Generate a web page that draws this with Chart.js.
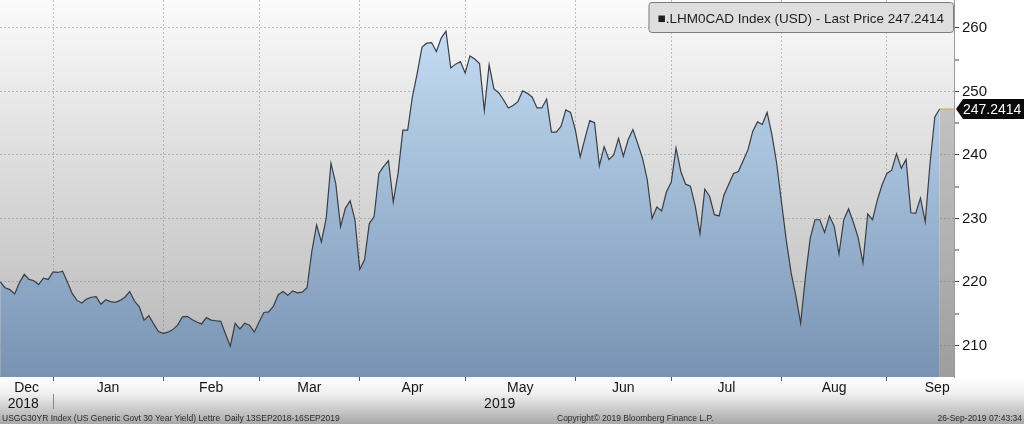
<!DOCTYPE html>
<html>
<head>
<meta charset="utf-8">
<script src="https://cdn.jsdelivr.net/npm/chart.js@4.4.1/dist/chart.umd.min.js"></script>
<style>
  html, body { margin: 0; padding: 0; background: #fff; }
  #wrap { width: 1024px; height: 424px; }
</style>
</head>
<body>
<div id="wrap"><canvas id="ourChart" width="1024" height="424"></canvas></div>
<script>
// one value per weekday, 17 Dec 2018 .. 17 Sep 2019
var seriesName = '.LHM0CAD Index (USD)';
var prices = [
    220.0, 219.1, 218.8, 218.1, 219.9, 221.2, 220.4, 220.2, 219.6, 220.6,
    220.4, 221.6, 221.5, 221.7, 220.0, 218.2, 217.1, 216.7, 217.3, 217.6,
    217.7, 216.5, 217.2, 216.9, 216.8, 217.1, 217.6, 218.5, 217.0, 216.1,
    214.0, 214.7, 213.4, 212.2, 211.9, 212.1, 212.5, 213.2, 214.5, 214.6,
    214.1, 213.7, 213.4, 214.4, 214.0, 213.9, 213.8, 211.8, 209.9, 213.5,
    212.6, 213.5, 213.2, 212.1, 213.7, 215.2, 215.3, 216.2, 218.0, 218.5,
    217.9, 218.6, 218.3, 218.4, 219.1, 224.8, 229.0, 226.3, 230.0, 238.7,
    235.5, 228.7, 231.6, 232.8, 229.8, 222.0, 223.5, 229.2, 230.3, 237.1,
    238.2, 239.1, 232.6, 237.1, 243.9, 243.9, 249.2, 252.9, 257.0, 257.6,
    257.7, 256.3, 258.4, 259.5, 253.7, 254.3, 254.7, 252.9, 255.6, 255.1,
    254.4, 247.0, 254.2, 250.4, 249.8, 248.7, 247.4, 247.8, 248.4, 250.1,
    249.7, 249.1, 247.4, 247.4, 248.8, 243.6, 243.6, 244.5, 247.1, 246.7,
    243.9, 239.7, 242.6, 245.4, 245.1, 238.3, 241.3, 239.3, 240.0, 242.6,
    239.8, 242.4, 244.0, 241.8, 239.5, 236.1, 230.0, 231.8, 231.2, 234.2,
    235.7, 241.1, 237.4, 235.4, 235.1, 232.0, 227.6, 234.6, 233.5, 230.6,
    230.4, 233.7, 235.4, 237.1, 237.4, 239.1, 240.8, 243.7, 245.2, 244.8,
    246.7, 243.2, 238.7, 232.6, 226.6, 221.5, 217.8, 213.5, 220.8, 226.9,
    229.8, 229.8, 227.8, 230.4, 228.8, 224.4, 229.8, 231.5, 229.4, 227.0,
    223.0, 230.7, 229.8, 232.9, 235.3, 237.1, 237.6, 240.2, 237.9, 239.3,
    230.9, 230.8, 233.2, 229.5, 238.7, 246.0, 247.2414
];

var monthLabels = ['Dec', 'Jan', 'Feb', 'Mar', 'Apr', 'May', 'Jun', 'Jul', 'Aug', 'Sep'];
// weekday index where each month starts (last entry = end of Sep)
var monthStarts = [0, 11, 34, 54, 75, 97, 120, 140, 163, 185, 206];
var yearLabels = ['2018', '2019'];
var yearPos = [4.8, 104.2];
var yTicks = [210, 220, 230, 240, 250, 260];

var footerLeft = 'USGG30YR Index (US Generic Govt 30 Year Yield) Lettre  Daily 13SEP2018-16SEP2019';
var footerMid = 'Copyright\u00A9 2019 Bloomberg Finance L.P.';
var footerRight = '26-Sep-2019 07:43:34';

var xMin = -0.06, xMax = 199;
var yMin = 205.04, yMax = 264.4;

var lastIdx = prices.length - 1;
var lastPrice = prices[lastIdx];
var fontName = '"Liberation Sans", Arial, sans-serif';

var backdrop = {
    id: 'backdrop',
    beforeDraw: function (chart) {
        var ctx = chart.ctx, a = chart.chartArea, w = chart.width, h = chart.height;
        ctx.save();
        ctx.fillStyle = '#ffffff';
        ctx.fillRect(0, 0, w, h);
        var g = ctx.createLinearGradient(0, a.top, 0, a.bottom);
        g.addColorStop(0, '#fbfbfb');
        g.addColorStop(0.35, '#e2e2e2');
        g.addColorStop(0.7, '#cbcbcb');
        g.addColorStop(1, '#b3b3b3');
        ctx.fillStyle = g;
        ctx.fillRect(a.left, a.top, a.right - a.left, a.bottom - a.top);
        var b = ctx.createLinearGradient(0, a.bottom, 0, h);
        b.addColorStop(0, '#ffffff');
        b.addColorStop(0.35, '#f0f0f0');
        b.addColorStop(1, '#a8a8a8');
        ctx.fillStyle = b;
        ctx.fillRect(0, a.bottom, w, h - a.bottom);
        ctx.restore();
    },
    afterDraw: function (chart) {
        var ctx = chart.ctx, a = chart.chartArea, w = chart.width, h = chart.height;
        var ys = chart.scales.y, xs = chart.scales.x;
        ctx.save();

        // legend box
        var txt = '\u25A0' + seriesName + ' - Last Price ' + lastPrice.toFixed(4);
        ctx.font = '13.5px ' + fontName;
        var tw = ctx.measureText(txt).width;
        var bx1 = a.right - 1, bx0 = bx1 - tw - 18;
        ctx.beginPath();
        ctx.roundRect(bx0 + 0.5, 2.5, bx1 - bx0, 30, 3);
        ctx.fillStyle = '#dedede';
        ctx.fill();
        ctx.strokeStyle = '#7c7c7c';
        ctx.lineWidth = 1;
        ctx.stroke();
        ctx.fillStyle = '#1e1e1e';
        ctx.textBaseline = 'alphabetic';
        ctx.fillText(txt, bx0 + 9, 23);

        // last price tag on the axis
        var py = ys.getPixelForValue(lastPrice);
        ctx.beginPath();
        ctx.moveTo(a.right + 2, py);
        ctx.lineTo(a.right + 9, py - 10);
        ctx.lineTo(w, py - 10);
        ctx.lineTo(w, py + 10);
        ctx.lineTo(a.right + 9, py + 10);
        ctx.closePath();
        ctx.fillStyle = '#0a0a0a';
        ctx.fill();
        ctx.fillStyle = '#ffffff';
        ctx.font = '14px ' + fontName;
        ctx.textBaseline = 'middle';
        ctx.fillText(lastPrice.toFixed(4), a.right + 9, py + 1);

        // year separator
        var sx = Math.round(xs.getPixelForValue(monthStarts[1])) + 0.5;
        ctx.strokeStyle = '#8a8a8a';
        ctx.beginPath();
        ctx.moveTo(sx, a.bottom + 17);
        ctx.lineTo(sx, a.bottom + 32);
        ctx.stroke();

        // footer
        ctx.font = '8.5px ' + fontName;
        ctx.fillStyle = '#2a2a2a';
        ctx.textBaseline = 'alphabetic';
        ctx.textAlign = 'left';
        ctx.fillText(footerLeft, 2, h - 3);
        ctx.fillText(footerMid, 557, h - 3);
        ctx.textAlign = 'right';
        ctx.fillText(footerRight, w - 2, h - 3);
        ctx.restore();
    }
};

var chartElement = new Chart(document.getElementById('ourChart'), {
    type: 'line',
    data: {
        datasets: [
            {
                label: seriesName,
                data: prices.map(function (p, i) { return { x: i, y: p }; }),
                borderColor: '#3a3e44',
                borderWidth: 1.2,
                pointRadius: 0,
                tension: 0,
                fill: 'start',
                backgroundColor: function (c) {
                    var a = c.chart.chartArea;
                    if (!a) return '#a8c4e0';
                    var g = c.chart.ctx.createLinearGradient(0, a.top, 0, a.bottom);
                    g.addColorStop(0, '#cae2f9');
                    g.addColorStop(1, '#7893b3');
                    return g;
                }
            },
            {
                label: 'last',
                data: [{ x: lastIdx, y: lastPrice }, { x: xMax, y: lastPrice }],
                borderColor: '#d9a54a',
                borderWidth: 1,
                pointRadius: 0,
                fill: 'start',
                backgroundColor: 'rgba(110,110,110,0.3)'
            }
        ]
    },
    options: {
        responsive: false,
        animation: false,
        layout: { padding: 0 },
        plugins: {
            legend: { display: false },
            tooltip: { enabled: false }
        },
        scales: {
            x: {
                type: 'linear',
                position: 'bottom',
                min: xMin,
                max: xMax,
                z: 1,
                afterFit: function (s) {
                    s.height = 47;
                    s.paddingLeft = 0;
                    s.paddingRight = 0;
                },
                afterBuildTicks: function (s) {
                    var t = [];
                    for (var i = 1; i < monthStarts.length; i++) {
                        if (monthStarts[i] < xMax) t.push({ value: monthStarts[i], kind: 'start' });
                    }
                    for (var k = 0; k < monthLabels.length; k++) {
                        t.push({ value: (monthStarts[k] + monthStarts[k + 1]) / 2, kind: 'month', text: [monthLabels[k]] });
                    }
                    for (var j = 0; j < yearLabels.length; j++) {
                        t.push({ value: yearPos[j], kind: 'year', text: ['', yearLabels[j]] });
                    }
                    t.sort(function (p, q) { return p.value - q.value; });
                    s.ticks = t;
                },
                grid: {
                    drawOnChartArea: true,
                    color: 'rgba(120,120,120,0.45)',
                    lineWidth: function (c) { return c.tick && c.tick.kind === 'start' ? 1 : 0; },
                    tickWidth: function (c) { return c.tick && c.tick.kind === 'start' ? 1 : 0; },
                    tickColor: '#5a5a5a',
                    tickLength: 4
                },
                border: { display: false, dash: [2, 2] },
                ticks: {
                    autoSkip: false,
                    maxRotation: 0,
                    padding: -1,
                    color: '#151515',
                    font: { family: fontName, size: 14, lineHeight: 1.15 },
                    callback: function (value, index, ticks) {
                        var t = ticks[index];
                        return t.text ? t.text : '';
                    }
                }
            },
            y: {
                position: 'right',
                min: yMin,
                max: yMax,
                z: 1,
                afterFit: function (s) {
                    s.width = 70;
                    s.paddingTop = 0;
                    s.paddingBottom = 0;
                },
                afterBuildTicks: function (s) {
                    var t = [];
                    for (var i = 0; i < yTicks.length; i++) {
                        t.push({ value: yTicks[i] });
                        if (i < yTicks.length - 1) t.push({ value: (yTicks[i] + yTicks[i + 1]) / 2 });
                    }
                    s.ticks = t;
                },
                grid: {
                    color: 'rgba(120,120,120,0.45)',
                    lineWidth: function (c) { return c.tick && yTicks.indexOf(c.tick.value) >= 0 ? 1 : 0; },
                    tickWidth: 1,
                    tickColor: '#444444',
                    tickLength: 5
                },
                border: { display: true, color: '#9a9a9a', width: 1, dash: [2, 2] },
                ticks: {
                    padding: 3,
                    color: '#151515',
                    font: { family: fontName, size: 15 },
                    callback: function (value) {
                        return yTicks.indexOf(value) >= 0 ? String(value) : '';
                    }
                }
            }
        }
    },
    plugins: [backdrop]
});
</script>
</body>
</html>
